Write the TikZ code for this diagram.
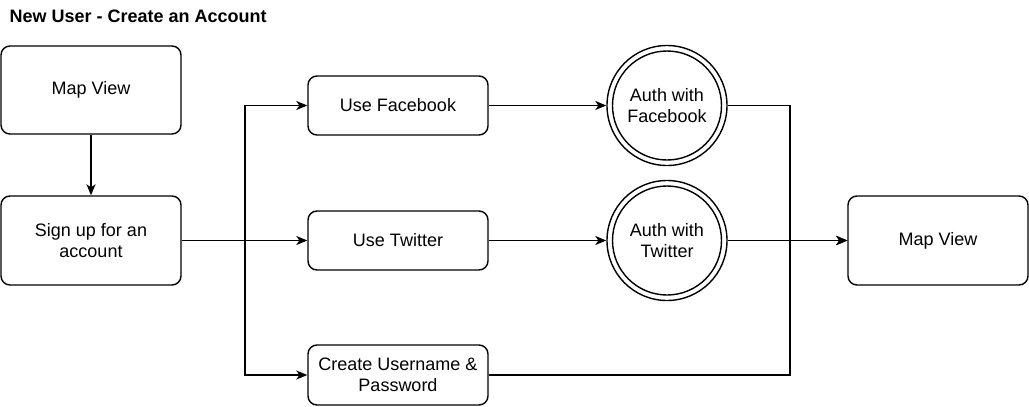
\documentclass[tikz,border=0pt]{standalone}
\usepackage{fontspec}
\setmainfont{Liberation Sans}
\usetikzlibrary{arrows.meta}
\begin{document}
\begin{tikzpicture}[x=1pt,y=-1pt,
  every node/.style={font=\fontsize{18}{21}\selectfont, align=center},
  box/.style={draw, line width=1.4pt, rounded corners=9pt, minimum width=180pt, inner sep=0pt},
  auth/.style={draw, line width=1.4pt, circle, minimum size=120pt, inner sep=0pt},
  conn/.style={line width=1.4pt, -{Stealth[length=11pt,width=9pt,inset=3pt]}}]
\useasboundingbox (0,0) rectangle (1029,407);
\node[anchor=base west, font=\bfseries\fontsize{18}{21}\selectfont] (title) at (6,22) {New User - Create an Account};
\node[box, minimum height=88pt] (mv1) at (91,90) {Map View};
\node[box, minimum height=89pt] (su) at (91,240.5) {Sign up for an\\account};
\node[box, minimum height=59pt] (fb) at (398,105.5) {Use Facebook};
\node[box, minimum height=59pt] (tw) at (398,240.5) {Use Twitter};
\node[box, minimum height=60pt] (cu) at (398,375) {Create Username \&\\Password};
\node[auth] (afb) at (667,105.5) {Auth with\\Facebook};
\node[auth] (atw) at (667,240.5) {Auth with\\Twitter};
\draw[line width=1.4pt] (afb.center) circle (54.5);
\draw[line width=1.4pt] (atw.center) circle (54.5);
\node[box, minimum height=89pt] (mv2) at (938,240.5) {Map View};
\coordinate (bx) at (245,240.5);
\coordinate (mx) at (790,240.5);
\draw[conn] (mv1) -- (su);
\draw[conn] (su) -- (tw);
\draw[conn] (su.east) -| (bx) |- (fb.west);
\draw[conn] (su.east) -| (bx) |- (cu.west);
\draw[conn] (fb) -- (afb);
\draw[conn] (tw) -- (atw);
\draw[conn] (afb.east) -| (mx) -- (mv2.west);
\draw[conn] (atw) -- (mv2);
\draw[conn] (cu.east) -| (mx) -- (mv2.west);
\end{tikzpicture}
\end{document}
